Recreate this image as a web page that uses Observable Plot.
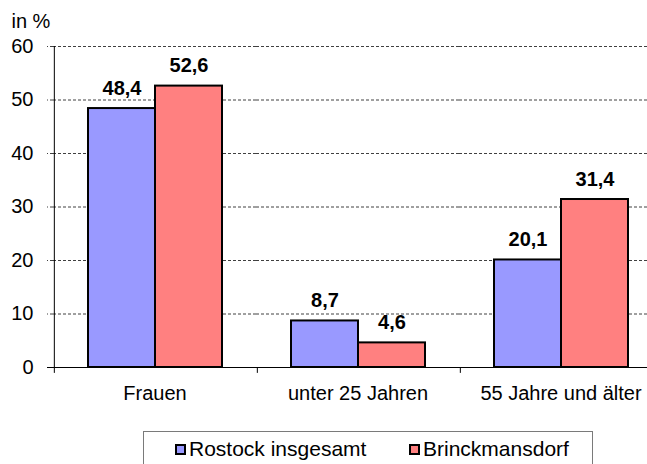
<!DOCTYPE html>
<html>
<head>
<meta charset="utf-8">
<script src="https://cdn.jsdelivr.net/npm/d3@7"></script>
<script src="https://cdn.jsdelivr.net/npm/@observablehq/plot@0.6"></script>
<style>
  html, body { margin: 0; padding: 0; background: #fff; overflow: hidden; }
  body { font-family: "Liberation Sans", Arial, sans-serif; }
  #wrap { width: 647px; height: 464px; overflow: hidden; position: relative; }
  #chart { width: 662px; }
  #chart svg { display: block; max-width: none !important; width: 662px !important; height: 425px !important; }
  #legend { position: absolute; left: 143px; top: 431px; width: 450px; height: 50px;
            border: 1px solid #7a7a7a; box-sizing: border-box; font-size: 21px; }
  .item { position: absolute; top: 5px; line-height: 23px; white-space: nowrap; color: #000; }
  .sw { display: inline-block; width: 7px; height: 7px; border: 2px solid #000; margin-right: 3px;
        vertical-align: 1px; }
</style>
</head>
<body>
<div id="wrap">
  <div id="chart"></div>
  <div id="legend"></div>
</div>
<script>
const categories = ["Frauen", "unter 25 Jahren", "55 Jahre und älter"];
const series = ["Rostock insgesamt", "Brinckmansdorf"];
const rostock = [48.4, 8.7, 20.1];
const brinckmansdorf = [52.6, 4.6, 31.4];
const yTicks = [0, 10, 20, 30, 40, 50, 60];
const colors = ["#9999FF", "#FF8080"];
const unitLabel = "in %";

const data = categories.flatMap((c, i) => [
  {cat: c, series: series[0], value: rostock[i]},
  {cat: c, series: series[1], value: brinckmansdorf[i]}
]);
const fmt = v => v.toFixed(1).replace(".", ",");

const chart = Plot.plot({
  width: 662,
  height: 425,
  marginLeft: 53,
  marginRight: 0,
  marginTop: 46,
  marginBottom: 58,
  style: {fontFamily: "'Liberation Sans', Arial, sans-serif", fontSize: "20px", color: "#000", background: "#fff", overflow: "visible"},
  fx: {domain: categories, paddingInner: 0, paddingOuter: 0, axis: null, label: null},
  x: {domain: series, paddingInner: 0, paddingOuter: 0.5, axis: null, label: null},
  y: {domain: [0, 60], axis: null, label: null},
  color: {domain: series, range: colors},
  marks: [
    Plot.ruleY(yTicks.slice(1), {stroke: "#000", strokeOpacity: 0.75, strokeDasharray: "3,2"}),
    Plot.axisY(yTicks, {anchor: "left", tickSize: 6, tickPadding: 14, fontSize: 20, label: null,
                        stroke: "#000", strokeOpacity: 0.75, strokeDasharray: "3,2"}),
    Plot.barY(data, {fx: "cat", x: "series", y: "value", fill: "series", stroke: "#000", strokeWidth: 2}),
    Plot.ruleY([0], {stroke: "#000", insetLeft: -6}),
    Plot.ruleX(categories, {fx: d => d, x: () => series[0], y1: -1.1, y2: 0, dx: -67.67, stroke: "#000"}),
    Plot.ruleX([categories[0]], {fx: d => d, x: () => series[0], y1: 0, y2: 60, dx: -67.67, stroke: "#000"}),
    Plot.axisFx({anchor: "bottom", tickSize: 0, tickPadding: 18, fontSize: 20, label: null}),
    Plot.text(data, {fx: "cat", x: "series", y: "value", text: d => fmt(d.value),
                     lineAnchor: "middle", dy: -20, fontWeight: "bold", fontSize: 20, fill: "#000"}),
    Plot.text([unitLabel], {fx: () => categories[0], frameAnchor: "top-left", textAnchor: "start",
                            lineAnchor: "middle", dx: -42, dy: -25, fontSize: 20, fill: "#000"})
  ]
});
document.getElementById("chart").appendChild(chart);

const legend = document.getElementById("legend");
const itemLeft = [31, 265];
series.forEach((s, i) => {
  const it = document.createElement("div");
  it.className = "item";
  it.style.left = itemLeft[i] + "px";
  const sw = document.createElement("span");
  sw.className = "sw";
  sw.style.background = colors[i];
  it.appendChild(sw);
  it.appendChild(document.createTextNode(s));
  legend.appendChild(it);
});
</script>
</body>
</html>
